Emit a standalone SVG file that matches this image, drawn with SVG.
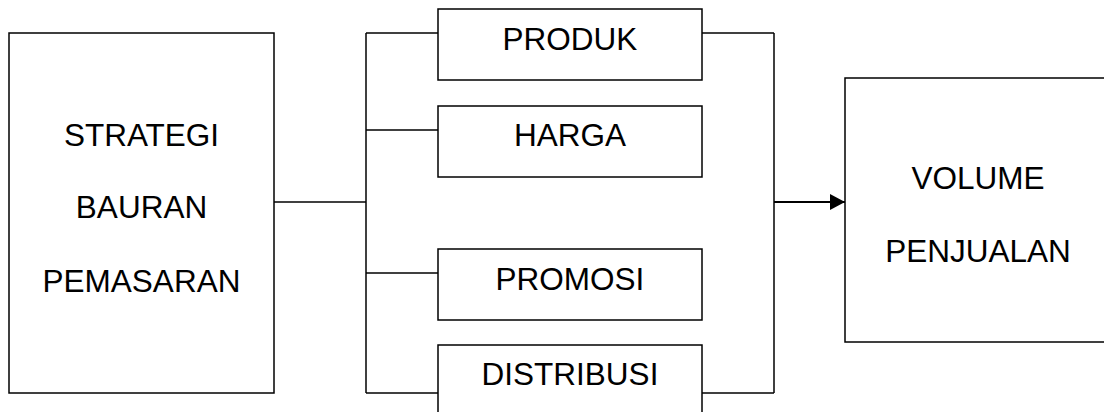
<svg xmlns="http://www.w3.org/2000/svg" width="1104" height="412" viewBox="0 0 1104 412">
  <style>
    .box { fill: #fff; stroke: #000; stroke-width: 1.5; }
    .wire { fill: none; stroke: #000; stroke-width: 1.5; }
    .lbl { font-family: "Liberation Sans", Arial, sans-serif; font-size: 31.5px; fill: #000; text-anchor: middle; }
  </style>
  <defs>
    <marker id="arrow" markerWidth="15" markerHeight="16" refX="15" refY="8" orient="auto" markerUnits="userSpaceOnUse">
      <path d="M0,0 L15,8 L0,16 Z" fill="#000"/>
    </marker>
  </defs>
  <rect width="1104" height="412" fill="#fff"/>

  <!-- connectors -->
  <g id="connectors">
    <line class="wire" x1="274" y1="202" x2="366" y2="202"/>
    <line class="wire" x1="366" y1="33" x2="366" y2="393"/>
    <line class="wire" x1="366" y1="33" x2="438" y2="33"/>
    <line class="wire" x1="366" y1="130" x2="438" y2="130"/>
    <line class="wire" x1="366" y1="273" x2="438" y2="273"/>
    <line class="wire" x1="366" y1="393" x2="438" y2="393"/>
    <line class="wire" x1="702" y1="33" x2="774" y2="33"/>
    <line class="wire" x1="702" y1="393" x2="774" y2="393"/>
    <line class="wire" x1="774" y1="33" x2="774" y2="393"/>
    <line x1="774" y1="202" x2="845" y2="202" stroke="#000" stroke-width="2" marker-end="url(#arrow)"/>
  </g>

  <g id="strategi">
    <rect class="box" x="9" y="33" width="265" height="360"/>
    <text class="lbl" x="141.5" y="146">STRATEGI</text>
    <text class="lbl" x="141.5" y="218">BAURAN</text>
    <text class="lbl" x="141.5" y="292">PEMASARAN</text>
  </g>

  <g id="produk">
    <rect class="box" x="438" y="9" width="264" height="71"/>
    <text class="lbl" x="570" y="50">PRODUK</text>
  </g>

  <g id="harga">
    <rect class="box" x="438" y="106" width="264" height="71"/>
    <text class="lbl" x="570" y="146">HARGA</text>
  </g>

  <g id="promosi">
    <rect class="box" x="438" y="249" width="264" height="71"/>
    <text class="lbl" x="570" y="290">PROMOSI</text>
  </g>

  <g id="distribusi">
    <rect class="box" x="438" y="345" width="264" height="72"/>
    <text class="lbl" x="570" y="385">DISTRIBUSI</text>
  </g>

  <g id="volume">
    <rect class="box" x="845" y="78" width="266" height="264"/>
    <text class="lbl" x="978" y="189">VOLUME</text>
    <text class="lbl" x="978" y="262">PENJUALAN</text>
  </g>
</svg>
